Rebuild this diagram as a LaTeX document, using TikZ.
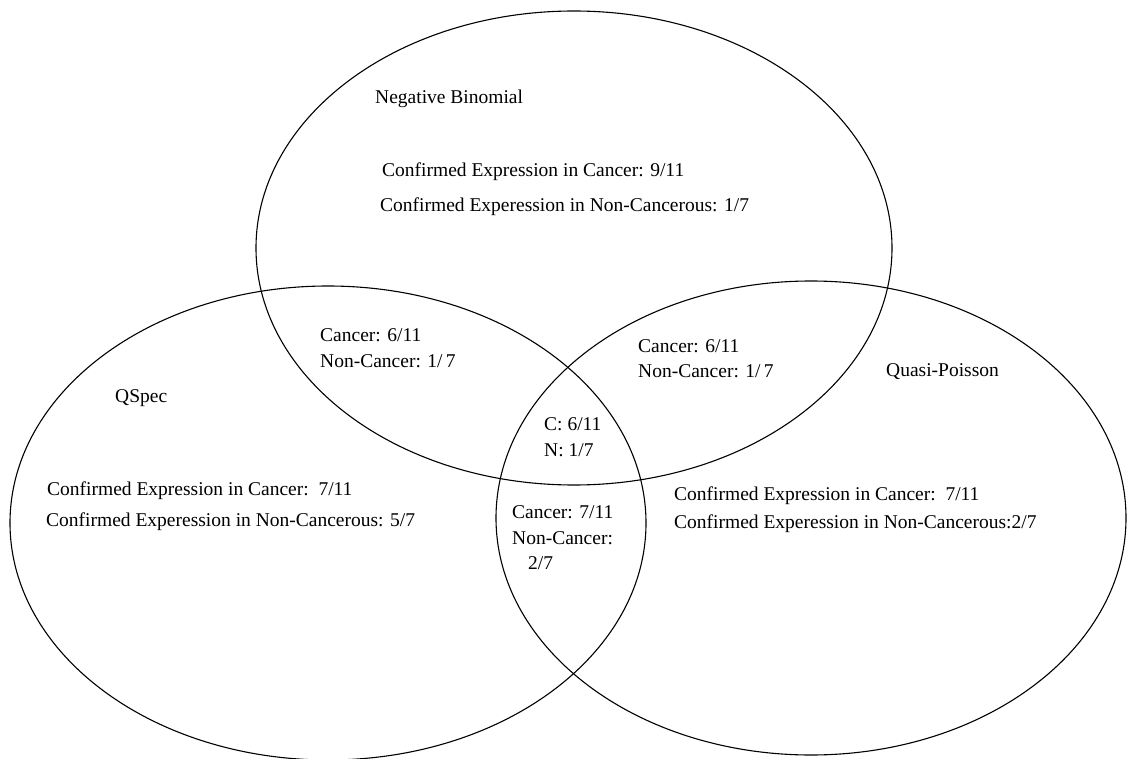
\documentclass[tikz,border=0pt]{standalone}
\usepackage{fontspec}
\setmainfont{Liberation Serif}
\newfontfamily\vennfont{Liberation Serif}
\usetikzlibrary{shapes.geometric}
\tikzset{
  venn/.style={ellipse, draw, line width=1.1pt, minimum width=636pt, minimum height=474pt, inner sep=0pt},
  lbl/.style={anchor=west, inner sep=0pt, font=\vennfont\fontsize{19.5}{23}\selectfont}
}

\begin{document}
\begin{tikzpicture}[x=1pt, y=-1pt]
        \useasboundingbox (0,0) rectangle (1127,759);
        \node[venn] (NB) at (574,248) {};
        \node[venn] (QS) at (328,523) {};
        \node[venn, minimum width=630pt] (QP) at (811,518) {};
        % set names
        \node[lbl] (nbname) at (375,99) {Negative Binomial};
        \node[lbl] (qsname) at (115,398) {QSpec};
        \node[lbl] (qpname) at (886,372) {Quasi-Poisson};
        % single sets
        \node[lbl] (nbc) at (382,172) {Confirmed Expression in Cancer: 9/11};
        \node[lbl] (nbn) at (380,207) {Confirmed Experession in Non-Cancerous: 1/7};
        \node[lbl] (qsc) at (47,491) {Confirmed Expression in Cancer:\ \ 7/11};
        \node[lbl] (qsn) at (46,522) {Confirmed Experession in Non-Cancerous: 5/7};
        \node[lbl] (qpc) at (674,496) {Confirmed Expression in Cancer:\ \ 7/11};
        \node[lbl] (qpn) at (674,524) {Confirmed Experession in Non-Cancerous:2/7};
        % pairwise overlaps
        \node[lbl] (nbqsc) at (320,335) {Cancer: 6/11}; \node[lbl] (nbqsn) at (320,361) {Non-Cancer: 1/\,7};
        \node[lbl] (nbqpc) at (638,346) {Cancer: 6/11}; \node[lbl] (nbqpn) at (638,371) {Non-Cancer: 1/\,7};
        \node[lbl] (qsqpc) at (512,512) {Cancer: 7/11}; \node[lbl] (qsqpn) at (512,538) {Non-Cancer:};
        \node[lbl] (qsqpf) at (528,563) {2/7};
        % all three
        \node[lbl] (allc) at (544,424) {C: 6/11}; \node[lbl] (alln) at (544,450) {N: 1/7};
    \end{tikzpicture}
\end{document}
